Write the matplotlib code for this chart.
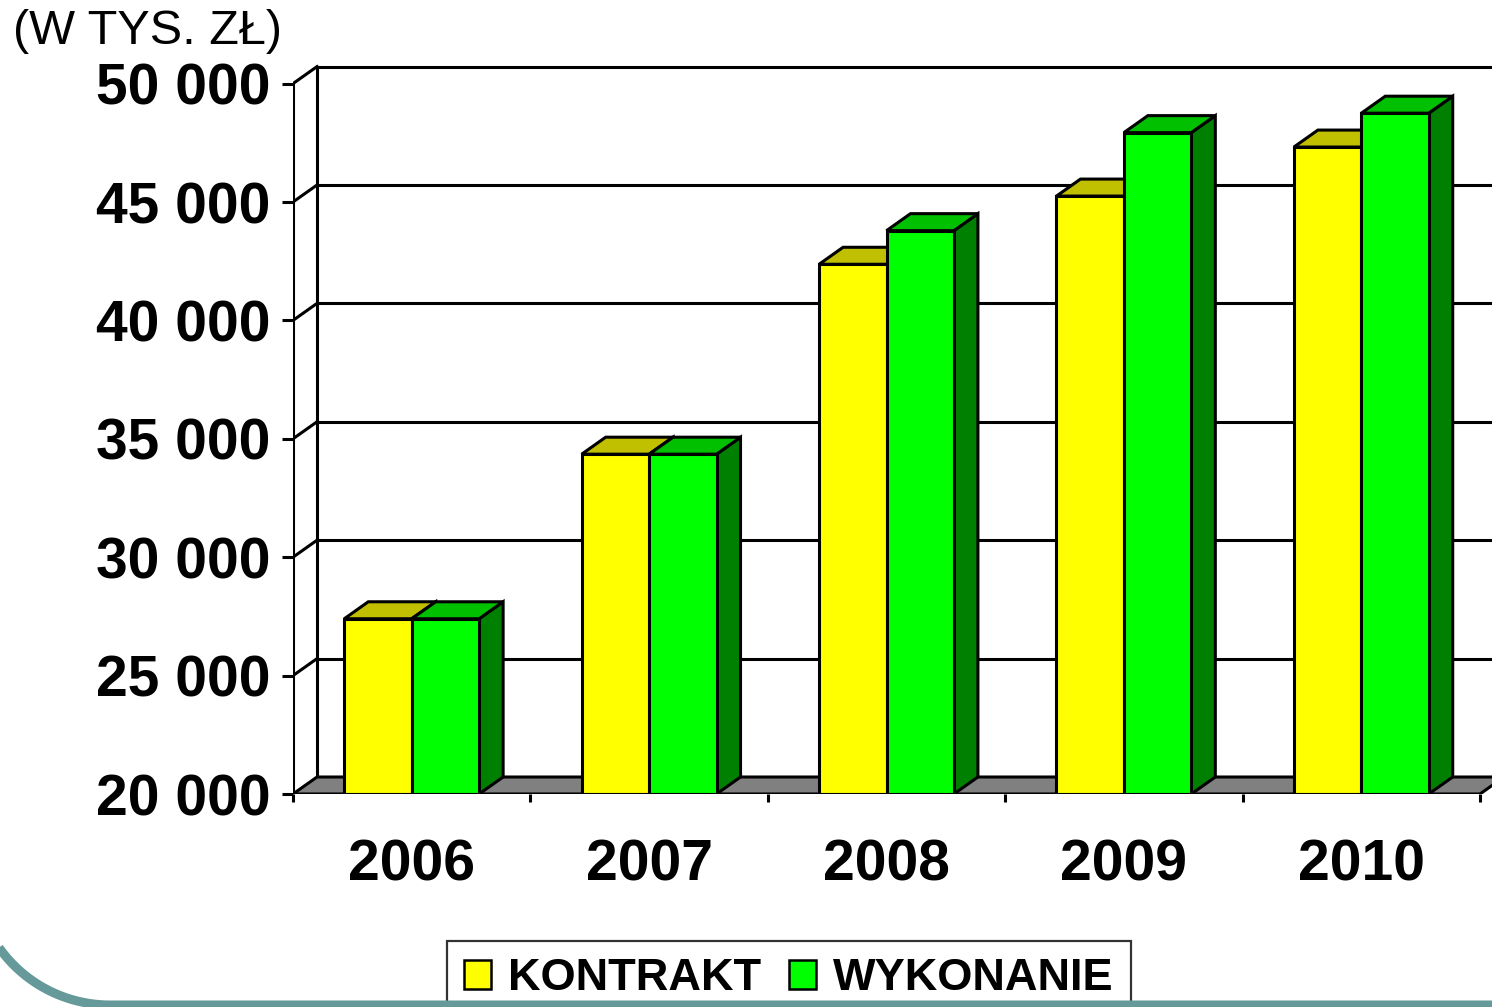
import numpy as np
import matplotlib
matplotlib.use("Agg")
import matplotlib.pyplot as plt
from matplotlib.patches import Polygon, Patch

plt.rcParams['font.family'] = ['Liberation Sans', 'DejaVu Sans']

# dane
lata = ['2006', '2007', '2008', '2009', '2010']
kontrakt = [27400, 34350, 42370, 45250, 47320]
wykonanie = [27400, 34350, 43790, 47930, 48750]
y_ticks = [20000, 25000, 30000, 35000, 40000, 45000, 50000]

W, H = 1492, 1007
fig = plt.figure(figsize=(W / 100, H / 100), dpi=100)

# skala osi w pikselach
x0_px, y0_px = 293, 794
cat_px = 237.4
px_per_unit = 23.68 / 1000
top_px = 30
ax = fig.add_axes([x0_px / W, (H - y0_px) / H, (W - x0_px) / W, (y0_px - top_px) / H])
ax.set_xlim(0, (W - x0_px) / cat_px)
ax.set_ylim(20000, 20000 + (y0_px - top_px) / px_per_unit)
for s in ax.spines.values():
    s.set_visible(False)
ax.patch.set_visible(False)

# glebokosc "3D"
ddx = 24 / cat_px
ddy = 17 / px_per_unit
lw = 2.2
n = len(lata)
ymin = 20000

# tylna sciana i siatka
for v in y_ticks[1:]:
    ax.plot([ddx, 10], [v + ddy, v + ddy], color='black', lw=lw, zorder=1)
    ax.plot([0, ddx], [v, v + ddy], color='black', lw=lw, zorder=1)
ax.plot([ddx, ddx], [ymin + ddy, y_ticks[-1] + ddy], color='black', lw=lw, zorder=1)

# podloga
floor = Polygon([(0, ymin), (n, ymin), (n + ddx, ymin + ddy), (ddx, ymin + ddy)],
                closed=True, facecolor='#808080', edgecolor='black', lw=lw, zorder=2)
ax.add_patch(floor)

# os Y z przodu
ax.plot([0, 0], [ymin, y_ticks[-1]], color='black', lw=lw, zorder=2)


def bar3d(xl, w, h, front, top, side):
    pts_f = [(xl, ymin), (xl + w, ymin), (xl + w, h), (xl, h)]
    pts_t = [(xl, h), (xl + w, h), (xl + w + ddx, h + ddy), (xl + ddx, h + ddy)]
    pts_s = [(xl + w, ymin), (xl + w + ddx, ymin + ddy), (xl + w + ddx, h + ddy), (xl + w, h)]
    for pts, c in [(pts_s, side), (pts_t, top), (pts_f, front)]:
        ax.add_patch(Polygon(pts, closed=True, facecolor=c, edgecolor='black',
                             lw=lw, joinstyle='miter', zorder=3))


bw = 0.284
for i in range(n):
    c = i + 0.5
    bar3d(c - bw, bw, kontrakt[i], '#FFFF00', '#C0C000', '#808000')
    bar3d(c, bw, wykonanie[i], '#00FF00', '#00C000', '#008000')

# przednia os X
ax.plot([0, n], [ymin, ymin], color='black', lw=lw, zorder=4)

# ticki
ax.set_yticks(y_ticks)
ax.set_yticklabels([f'{v:,}'.replace(',', ' ') for v in y_ticks])
ax.tick_params(axis='y', direction='out', length=8, width=lw, pad=8,
               labelsize=41)
for lab in ax.get_yticklabels():
    lab.set_fontweight('bold')

ax.set_xticks(np.arange(n) + 0.5)
ax.set_xticklabels(lata)
ax.set_xticks(np.arange(n + 1), minor=True)
ax.tick_params(axis='x', which='major', length=0, pad=32, labelsize=41)
ax.tick_params(axis='x', which='minor', direction='out', length=6, width=lw)
for lab in ax.get_xticklabels():
    lab.set_fontweight('bold')

# jednostka
fig.text(13 / W, 1 - 9 / H, '(W TYS. ZŁ)', fontsize=35, ha='left', va='top')

# legenda
handles = [Patch(facecolor='#FFFF00', edgecolor='black', lw=1.8),
           Patch(facecolor='#00FF00', edgecolor='black', lw=1.8)]
leg = fig.legend(handles, ['KONTRAKT', 'WYKONANIE'], ncol=2,
                 loc='upper left', bbox_to_anchor=(447 / W, 1 - 941 / H),
                 borderaxespad=0, frameon=True, fancybox=False,
                 prop={'size': 32.5, 'weight': 'bold'},
                 handlelength=0.6, handleheight=0.6, handletextpad=0.38,
                 columnspacing=0.6, borderpad=0.38)
leg.get_frame().set_edgecolor('black')
leg.get_frame().set_linewidth(1.6)

# dekoracja slajdu
deco = fig.add_axes([0, 0, 1, 1], zorder=10)
deco.set_xlim(0, W)
deco.set_ylim(H, 0)
deco.axis('off')
r, cx, cy = 136, 110, 869
t = np.linspace(np.pi, np.pi / 2, 60)
xs = np.concatenate([cx + r * np.cos(t), [W + 10]])
ys = np.concatenate([cy + r * np.sin(t), [cy + r]])
deco.plot(xs, ys, color='#669999', lw=6.5, solid_capstyle='butt')

fig.savefig('out.png', dpi=100)
